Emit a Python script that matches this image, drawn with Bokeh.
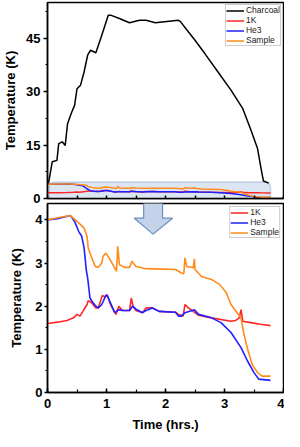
from bokeh.plotting import figure
from bokeh.layouts import column
from bokeh.models import (BoxAnnotation, SingleIntervalTicker, Range1d, Legend, LegendItem,
                          CustomJSTickFormatter)
from bokeh.embed import file_html
from bokeh.resources import INLINE

# ---------------- data ----------------
charcoal_t = [0.0, 0.02, 0.08, 0.16, 0.19, 0.25, 0.30, 0.34, 0.40, 0.46, 0.50, 0.56, 0.62, 0.68,
              0.73, 0.82, 0.92, 1.03, 1.08, 1.22, 1.39, 1.56, 1.67, 1.83, 1.94, 2.22, 2.25,
              2.39, 2.50, 2.67, 2.89, 3.11, 3.31, 3.44, 3.56, 3.62, 3.66, 3.75]
charcoal_k = [4.0, 4.5, 10.3, 10.7, 15.4, 15.9, 14.9, 21.0, 23.8, 26.2, 30.8, 31.8, 35.5, 40.2,
              41.6, 40.9, 45.8, 51.4, 51.4, 50.5, 49.3, 50.0, 50.0, 49.3, 49.5, 50.0, 49.7,
              46.7, 44.4, 40.6, 35.5, 30.4, 25.2, 19.6, 14.0, 8.4, 4.9, 4.3]

sample_t = [0.0, 0.17, 0.39, 0.47, 0.56, 0.62, 0.67, 0.69, 0.75, 0.81, 0.86, 0.92, 0.94, 0.99,
            1.06, 1.17, 1.19, 1.22, 1.31, 1.39, 1.43, 1.50, 1.67, 1.94, 2.17, 2.27, 2.31, 2.33,
            2.36, 2.47, 2.49, 2.50, 2.61, 2.78, 2.92, 3.03, 3.11, 3.19, 3.28, 3.33, 3.40, 3.47,
            3.56, 3.64, 3.78]
sample_k = [4.0, 4.05, 4.1, 4.0, 3.89, 3.81, 3.62, 3.35, 3.12, 2.92, 2.9, 3.0, 3.15, 3.23,
            3.08, 2.81, 3.39, 2.96, 2.9, 2.9, 3.04, 2.92, 2.87, 2.86, 2.85, 2.77, 2.75, 3.12,
            2.92, 2.89, 3.1, 2.85, 2.69, 2.62, 2.5, 2.31, 2.04, 1.89, 1.73, 1.35, 0.96, 0.65,
            0.46, 0.38, 0.38]

he3_t = [0.0, 0.17, 0.39, 0.46, 0.53, 0.58, 0.62, 0.66, 0.68, 0.72, 0.75, 0.82, 0.86, 0.92,
         0.99, 1.01, 1.08, 1.14, 1.21, 1.27, 1.39, 1.44, 1.50, 1.61, 1.67, 1.78, 1.89, 2.17,
         2.22, 2.27, 2.33, 2.49, 2.56, 2.78, 2.94, 3.11, 3.28, 3.39, 3.50, 3.58, 3.78]
he3_k = [4.0, 4.03, 4.1, 3.96, 3.73, 3.62, 3.35, 2.81, 2.66, 2.19, 2.12, 2.0, 1.96, 2.04,
         2.25, 2.26, 2.04, 1.85, 1.92, 1.9, 1.9, 2.0, 1.93, 1.85, 1.9, 1.96, 1.88, 1.86,
         1.77, 1.77, 1.85, 1.92, 1.81, 1.73, 1.62, 1.39, 1.04, 0.73, 0.46, 0.31, 0.28]

onek_t = [0.0, 0.17, 0.33, 0.44, 0.50, 0.55, 0.60, 0.67, 0.69, 0.75, 0.82, 0.86, 0.93, 0.97,
          1.01, 1.08, 1.16, 1.21, 1.27, 1.39, 1.42, 1.45, 1.50, 1.61, 1.67, 1.78, 1.89, 2.17,
          2.22, 2.27, 2.30, 2.33, 2.39, 2.47, 2.56, 2.78, 3.11, 3.19, 3.25, 3.28, 3.31, 3.44,
          3.61, 3.78]
onek_k = [1.6, 1.63, 1.67, 1.73, 1.81, 1.77, 1.88, 2.04, 2.13, 2.08, 1.96, 1.96, 2.25, 2.22,
          2.26, 2.0, 1.81, 2.0, 1.9, 1.9, 2.19, 2.0, 1.9, 1.85, 1.96, 1.96, 1.88, 1.86,
          1.81, 1.79, 1.77, 2.04, 1.96, 1.88, 1.79, 1.73, 1.65, 1.67, 1.73, 1.92, 1.65, 1.62,
          1.58, 1.55]

RED = "#ff2626"
BLUE = "#1f1fff"
ORANGE = "#ff8c1a"
FONT = "Liberation Sans"

def style(p):
    p.outline_line_color = "black"
    p.outline_line_width = 1.5
    p.xgrid.visible = False
    p.ygrid.visible = False
    for ax in (p.xaxis[0], p.yaxis[0]):
        ax.axis_line_width = 1.5
        ax.major_tick_line_width = 1.5
        ax.minor_tick_line_width = 1.2
        ax.major_label_text_font = FONT
        ax.major_label_text_font_style = "bold"
        ax.major_label_text_font_size = "13px"
        ax.major_label_text_color = "black"
        ax.axis_label_text_font = FONT
        ax.axis_label_text_font_style = "bold"
        ax.axis_label_text_font_size = "13px"
        ax.axis_label_text_color = "black"

# ---------------- top panel ----------------
p1 = figure(width=284, height=206, output_backend="svg", toolbar_location=None,
            x_range=Range1d(0, 4), y_range=Range1d(0, 55),
            min_border_left=45, min_border_right=1, min_border_top=2, min_border_bottom=8)
style(p1)
p1.yaxis.axis_label = "Temperature (K)"
p1.yaxis.ticker = SingleIntervalTicker(interval=15, num_minor_ticks=2)
p1.yaxis.major_tick_out = 4
p1.yaxis.major_tick_in = 0
p1.yaxis.minor_tick_out = 2
p1.yaxis.minor_tick_in = 0
p1.yaxis.major_label_standoff = 3
p1.yaxis.axis_label_standoff = 5
p1.xaxis.ticker = SingleIntervalTicker(interval=0.5, num_minor_ticks=0)
p1.xaxis.major_tick_in = 3
p1.xaxis.major_tick_out = 0
p1.xaxis.formatter = CustomJSTickFormatter(code="return ''")
p1.xaxis.major_label_standoff = 0

box = BoxAnnotation(left=0.03, right=3.78, bottom=-1.5, top=4.6, fill_color="#dce6f2",
                    fill_alpha=1.0, line_color="#5b7fb5", line_width=1.5,
                    border_radius=5, level="underlay")
p1.add_layout(box)

r_c = p1.line(charcoal_t, charcoal_k, line_color="black", line_width=1.5)
r_1 = p1.line(onek_t, onek_k, line_color=RED, line_width=1.5)
r_h = p1.line(he3_t, he3_k, line_color=BLUE, line_width=1.5)
r_s = p1.line(sample_t, sample_k, line_color=ORANGE, line_width=1.5)

leg1 = Legend(items=[LegendItem(label="Charcoal", renderers=[r_c]),
                     LegendItem(label="1K", renderers=[r_1]),
                     LegendItem(label="He3", renderers=[r_h]),
                     LegendItem(label="Sample", renderers=[r_s])],
              location="top_right")
p1.add_layout(leg1)

# ---------------- bottom panel ----------------
p2 = figure(width=284, height=236, output_backend="svg", toolbar_location=None,
            x_range=Range1d(0, 4), y_range=Range1d(0, 4.38),
            min_border_left=45, min_border_right=1, min_border_top=5, min_border_bottom=0,
            margin=(-8, 0, 0, 0))
p2.border_fill_alpha = 0
style(p2)
p2.yaxis.axis_label = "Temperature (K)"
p2.xaxis.axis_label = "Time (hrs.)"
p2.yaxis.ticker = SingleIntervalTicker(interval=1, num_minor_ticks=2)
p2.xaxis.ticker = SingleIntervalTicker(interval=1, num_minor_ticks=2)
p2.yaxis.major_tick_out = 3
p2.yaxis.major_tick_in = 0
p2.yaxis.minor_tick_out = 2
p2.yaxis.minor_tick_in = 0
p2.yaxis.major_label_standoff = 2
p2.yaxis.axis_label_standoff = 8
p2.xaxis.major_tick_out = 0
p2.xaxis.major_tick_in = 4
p2.xaxis.minor_tick_out = 0
p2.xaxis.minor_tick_in = 3
p2.xaxis.major_label_standoff = 6
p2.xaxis.axis_label_standoff = 6

# arrow from the top box to the zoomed panel
arrow_x = [1.63, 1.95, 1.95, 2.12, 1.79, 1.47, 1.63]
arrow_y = [4.7, 4.7, 4.04, 4.04, 3.67, 4.04, 4.04]
p2.patch(arrow_x, arrow_y, fill_color="#c3d3e9", line_color="#6d8ebf", line_width=1.2)

q_1 = p2.line(onek_t, onek_k, line_color=RED, line_width=1.6)
q_h = p2.line(he3_t, he3_k, line_color=BLUE, line_width=1.6)
q_s = p2.line(sample_t, sample_k, line_color=ORANGE, line_width=1.6)

leg2 = Legend(items=[LegendItem(label="1K", renderers=[q_1]),
                     LegendItem(label="He3", renderers=[q_h]),
                     LegendItem(label="Sample", renderers=[q_s])],
              location="top_right")
p2.add_layout(leg2)

for lg, m in ((leg1, 2), (leg2, 3)):
    lg.label_text_font = FONT
    lg.label_text_font_size = "8.5px"
    lg.label_text_color = "#222222"
    lg.label_height = 9
    lg.glyph_height = 9
    lg.glyph_width = 18
    lg.label_standoff = 2
    lg.spacing = 0
    lg.padding = 0
    lg.margin = m
    lg.border_line_color = "#999999"
    lg.border_line_width = 1
    lg.background_fill_alpha = 1.0

layout = column(p1, p2, spacing=0)
open("out.html", "w").write(file_html(layout, INLINE))
